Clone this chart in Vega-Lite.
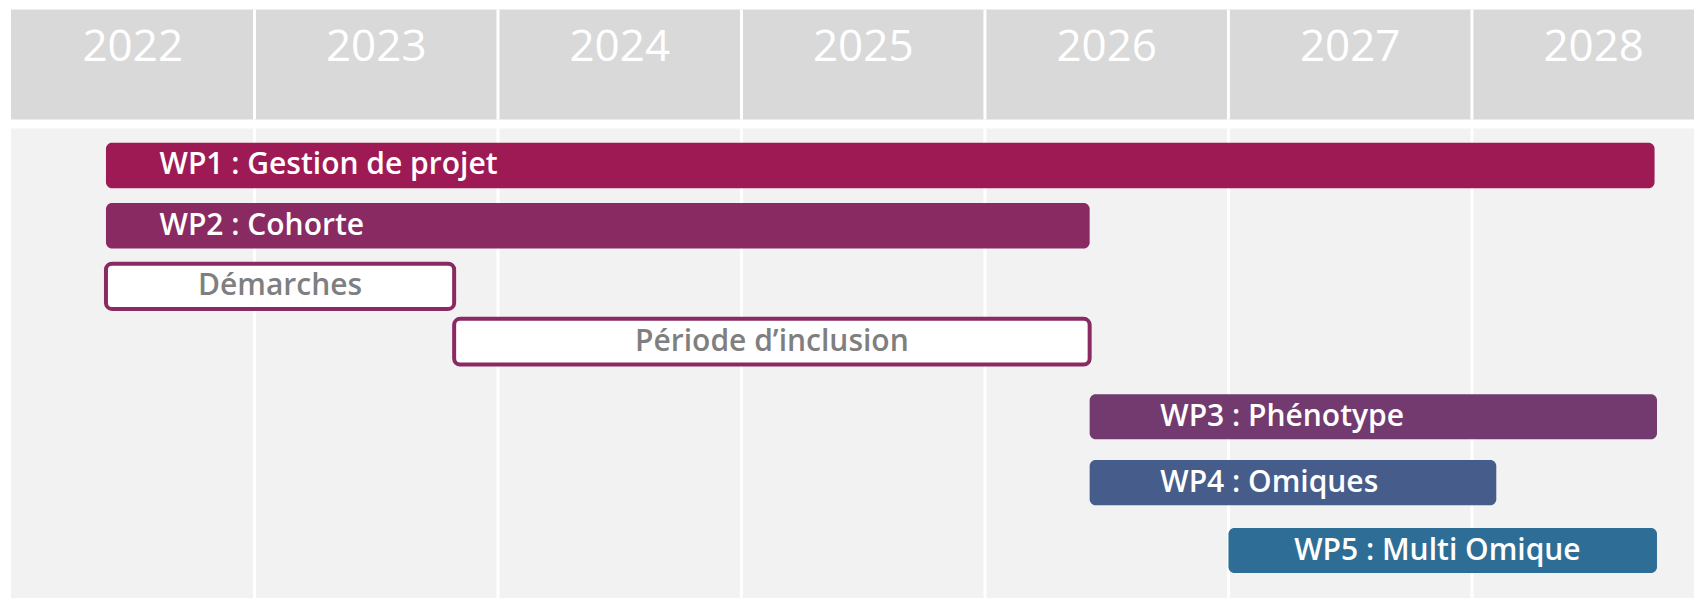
{
  "$schema": "https://vega.github.io/schema/vega-lite/v6.json",
  "padding": {"left": 11, "top": 7.5, "right": 0, "bottom": 0},
  "background": "white",
  "spacing": 5,
  "config": {"view": {"stroke": null}, "font": "Open Sans"},
  "datasets": {
    "years": [
      {"year": 2022, "label": "2022"},
      {"year": 2023, "label": "2023"},
      {"year": 2024, "label": "2024"},
      {"year": 2025, "label": "2025"},
      {"year": 2026, "label": "2026"},
      {"year": 2027, "label": "2027"},
      {"year": 2028, "label": "2028"}
    ],
    "tasks": [
      {"task": "WP1 : Gestion de projet", "kind": "wp1", "start": 2022.39, "end": 2028.75, "top": 0.30, "bottom": 1.27, "label_at": 2022.61, "align": "left"},
      {"task": "WP2 : Cohorte", "kind": "wp2", "start": 2022.39, "end": 2026.43, "top": 1.58, "bottom": 2.55, "label_at": 2022.61, "align": "left"},
      {"task": "Démarches", "kind": "phase", "start": 2022.39, "end": 2023.82, "top": 2.87, "bottom": 3.83, "label_at": 2023.105, "align": "center"},
      {"task": "Période d’inclusion", "kind": "phase", "start": 2023.82, "end": 2026.43, "top": 4.04, "bottom": 5.01, "label_at": 2025.125, "align": "center"},
      {"task": "WP3 : Phénotype", "kind": "wp3", "start": 2026.43, "end": 2028.76, "top": 5.64, "bottom": 6.60, "label_at": 2026.72, "align": "left"},
      {"task": "WP4 : Omiques", "kind": "wp4", "start": 2026.43, "end": 2028.10, "top": 7.04, "bottom": 8.00, "label_at": 2026.72, "align": "left"},
      {"task": "WP5 : Multi Omique", "kind": "wp5", "start": 2027.0, "end": 2028.76, "top": 8.48, "bottom": 9.44, "label_at": 2027.27, "align": "left"}
    ]
  },
  "resolve": {"scale": {"x": "shared"}},
  "vconcat": [
    {
      "width": 1683,
      "height": 110,
      "view": {"fill": "#d9d9d9", "stroke": null},
      "data": {"name": "years"},
      "layer": [
        {
          "transform": [{"filter": "datum.year > 2022"}],
          "mark": {"type": "rule", "color": "white", "strokeWidth": 3},
          "encoding": {
            "x": {"field": "year", "type": "quantitative", "scale": {"domain": [2022, 2028.912], "nice": false, "zero": false}, "axis": null}
          }
        },
        {
          "mark": {"type": "text", "color": "white", "fontSize": 44, "fontWeight": 500, "baseline": "middle", "align": "center", "dx": 121.75, "dy": -17},
          "encoding": {
            "x": {"field": "year", "type": "quantitative", "axis": null},
            "text": {"field": "label"}
          }
        }
      ]
    },
    {
      "width": 1683,
      "height": 471,
      "view": {"fill": "#f2f2f2", "stroke": null},
      "layer": [
        {
          "data": {"name": "years"},
          "transform": [{"filter": "datum.year > 2022"}],
          "mark": {"type": "rule", "color": "white", "strokeWidth": 3},
          "encoding": {
            "x": {"field": "year", "type": "quantitative", "axis": null}
          }
        },
        {
          "data": {"name": "tasks"},
          "mark": {"type": "rect", "cornerRadius": 6},
          "encoding": {
            "x": {"field": "start", "type": "quantitative", "axis": null},
            "x2": {"field": "end"},
            "y": {"field": "top", "type": "quantitative", "scale": {"domain": [0, 10], "reverse": true, "nice": false, "zero": false}, "axis": null},
            "y2": {"field": "bottom"},
            "fill": {"field": "kind", "type": "nominal", "legend": null,
              "scale": {"domain": ["wp1", "wp2", "phase", "wp3", "wp4", "wp5"], "range": ["#9e1a55", "#8a2a63", "#ffffff", "#723a6e", "#465c8a", "#2e6e96"]}},
            "stroke": {"field": "kind", "type": "nominal", "legend": null,
              "scale": {"domain": ["wp1", "wp2", "phase", "wp3", "wp4", "wp5"], "range": ["#9e1a55", "#8a2a63", "#8a2a63", "#723a6e", "#465c8a", "#2e6e96"]}},
            "strokeWidth": {"condition": {"test": "datum.kind === 'phase'", "value": 4}, "value": 0}
          }
        },
        {
          "data": {"name": "tasks"},
          "transform": [{"calculate": "(datum.top + datum.bottom) / 2", "as": "mid"}, {"filter": "datum.align === 'left'"}],
          "mark": {"type": "text", "fontSize": 30, "fontWeight": 600, "align": "left", "baseline": "middle", "color": "white"},
          "encoding": {
            "x": {"field": "label_at", "type": "quantitative", "axis": null},
            "y": {"field": "mid", "type": "quantitative", "axis": null},
            "text": {"field": "task"}
          }
        },
        {
          "data": {"name": "tasks"},
          "transform": [{"calculate": "(datum.top + datum.bottom) / 2", "as": "mid"}, {"filter": "datum.align === 'center'"}],
          "mark": {"type": "text", "fontSize": 30, "fontWeight": 600, "align": "center", "baseline": "middle", "color": "#7f7f7f"},
          "encoding": {
            "x": {"field": "label_at", "type": "quantitative", "axis": null},
            "y": {"field": "mid", "type": "quantitative", "axis": null},
            "text": {"field": "task"}
          }
        }
      ]
    }
  ]
}
